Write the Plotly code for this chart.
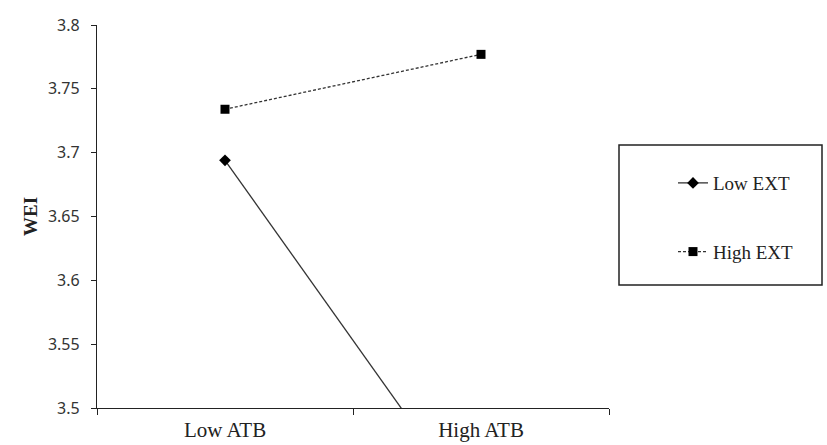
import plotly.graph_objects as go

categories = ["Low ATB", "High ATB"]
low_ext = [3.694, 3.412]
high_ext = [3.734, 3.777]
series_names = ["Low EXT", "High EXT"]
y_tick_vals = [3.5, 3.55, 3.6, 3.65, 3.7, 3.75, 3.8]
y_tick_text = ["3.5", "3.55", "3.6", "3.65", "3.7", "3.75", "3.8"]

SERIF = "Liberation Serif, Times New Roman, serif"
SANS = "Noto Sans, Open Sans, sans-serif"
INK = "#222222"

fig = go.Figure()
fig.add_trace(go.Scatter(
    x=categories, y=low_ext, name=series_names[0], legendgroup="a",
    mode="lines+markers",
    line=dict(color="#333333", width=1.3),
    marker=dict(symbol="diamond", size=9, color="black"),
))
fig.add_trace(go.Scatter(
    x=categories, y=high_ext, name=series_names[1], legendgroup="b",
    mode="lines+markers",
    line=dict(color="#333333", width=1.3, dash="3px,2px"),
    marker=dict(symbol="square", size=9, color="black"),
))

fig.update_layout(
    width=827, height=445,
    margin=dict(l=97, r=218, t=25, b=37),
    paper_bgcolor="white", plot_bgcolor="white",
    font=dict(family=SERIF, size=19, color=INK),
    showlegend=True,
    legend=dict(
        x=1.125, y=0.637, xanchor="left", yanchor="top",
        bgcolor="rgba(0,0,0,0)", borderwidth=0,
        traceorder="grouped", tracegroupgap=41,
        font=dict(family=SERIF, size=19, color=INK),
    ),
    shapes=[dict(
        type="rect", xref="paper", yref="paper",
        x0=(619 - 97) / 512, x1=(822 - 97) / 512,
        y0=(408 - 285) / 383, y1=(408 - 145) / 383,
        line=dict(color=INK, width=1.5), fillcolor="rgba(0,0,0,0)",
    )],
    xaxis=dict(
        type="category", range=[-0.5, 1.5], automargin=False,
        tickson="boundaries", ticks="outside", ticklen=6,
        tickcolor=INK, showline=True, linecolor=INK, linewidth=1.3,
        showgrid=False, zeroline=False,
        ticklabelstandoff=3,
        tickfont=dict(family=SERIF, size=21, color=INK),
    ),
    yaxis=dict(
        range=[3.5, 3.8], tickvals=y_tick_vals, ticktext=y_tick_text,
        automargin=False,
        ticks="outside", ticklen=5, tickcolor=INK,
        ticklabelposition="outside", ticklabelstandoff=8,
        showline=True, linecolor=INK, linewidth=1.3,
        showgrid=False, zeroline=False,
        tickfont=dict(family=SANS, size=16, color="#333333"),
        title=dict(text="<b>WEI</b>", font=dict(family=SERIF, size=19, color=INK), standoff=5),
    ),
)

fig.write_html("out.html")
